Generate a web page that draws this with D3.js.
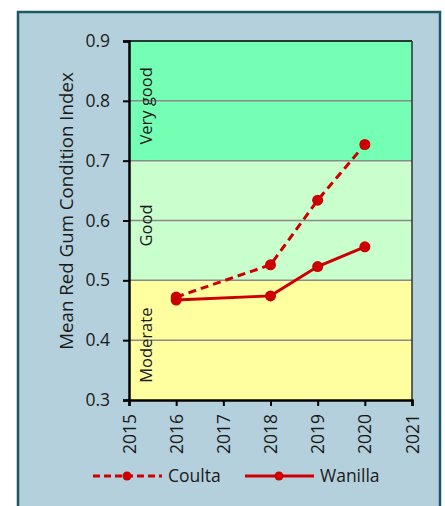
<html>
<head>
<script src="https://cdn.jsdelivr.net/npm/d3@7"></script>
<style>
  body { margin: 0; background: #fff; }
  text { font-family: "Open Sans", sans-serif; fill: #1a1a1a; }
</style>
</head>
<body>
<div id="chart"></div>
<script>
// data
const years = [2016, 2018, 2019, 2020];
const coulta = [0.472, 0.526, 0.634, 0.727];
const wanilla = [0.467, 0.474, 0.523, 0.556];
const bandNames = ["Moderate", "Good", "Very good"];
const bandLow = [0.3, 0.5, 0.7];
const bandHigh = [0.5, 0.7, 0.9];
const bandColors = ["#ffffa0", "#c8ffcc", "#74ffb4"];
const yTicks = [0.3, 0.4, 0.5, 0.6, 0.7, 0.8, 0.9];
const xTicks = [2015, 2016, 2017, 2018, 2019, 2020, 2021];

const W = 445, H = 506;
const m = {left: 129, right: 412, top: 41, bottom: 400};
const red = "#cc0000";

const svg = d3.select("#chart").append("svg")
    .attr("width", W).attr("height", H);

// outer panel
svg.append("rect")
    .attr("x", 18).attr("y", 12).attr("width", 422).attr("height", 510)
    .attr("fill", "#b4d0dc").attr("stroke", "#1d5866").attr("stroke-width", 2.5);

const x = d3.scaleLinear().domain([2015, 2021]).range([m.left, m.right]);
const y = d3.scaleLinear().domain([0.3, 0.9]).range([m.bottom, m.top]);

// bands
svg.append("g").selectAll("rect")
    .data(bandNames)
    .join("rect")
    .attr("x", m.left)
    .attr("y", (d, i) => y(bandHigh[i]))
    .attr("width", m.right - m.left)
    .attr("height", (d, i) => y(bandLow[i]) - y(bandHigh[i]))
    .attr("fill", (d, i) => bandColors[i]);

// gridlines
svg.append("g").selectAll("line")
    .data(yTicks.slice(1, -1))
    .join("line")
    .attr("x1", m.left).attr("x2", m.right)
    .attr("y1", d => y(d)).attr("y2", d => y(d))
    .attr("stroke", "#8a8a8a").attr("stroke-width", 1.5);

// band labels
svg.append("g").selectAll("text")
    .data(bandNames)
    .join("text")
    .attr("transform", (d, i) => `translate(152,${(y(bandLow[i]) + y(bandHigh[i])) / 2 + 5}) rotate(-90)`)
    .attr("text-anchor", "middle")
    .attr("font-size", 16.5)
    .text(d => d);

// frame top/right
svg.append("line").attr("x1", m.left).attr("x2", m.right).attr("y1", m.top).attr("y2", m.top)
    .attr("stroke", "#000").attr("stroke-width", 1.5);
svg.append("line").attr("x1", m.right).attr("x2", m.right).attr("y1", m.top).attr("y2", m.bottom)
    .attr("stroke", "#333").attr("stroke-width", 1.5);

// axes
const yAxis = svg.append("g")
    .attr("transform", `translate(${m.left},0)`)
    .call(d3.axisLeft(y).tickValues(yTicks).tickFormat(d3.format(".1f")).tickSize(6).tickPadding(13));
const xAxis = svg.append("g")
    .attr("transform", `translate(0,${m.bottom})`)
    .call(d3.axisBottom(x).tickValues(xTicks).tickFormat(d3.format("d")).tickSize(6));
[yAxis, xAxis].forEach(a => {
    a.select(".domain").attr("stroke", "#000").attr("stroke-width", 2.5);
    a.selectAll(".tick line").attr("stroke", "#000").attr("stroke-width", 2);
    a.selectAll("text").attr("font-size", 17.5).attr("font-family", "'Open Sans', sans-serif").attr("fill", "#1a1a1a");
});
xAxis.selectAll("text")
    .attr("transform", "rotate(-90)")
    .attr("text-anchor", "end")
    .attr("x", -14).attr("y", 0).attr("dy", "0.35em");

// y title
svg.append("text")
    .attr("transform", `translate(73,211) rotate(-90)`)
    .attr("text-anchor", "middle")
    .attr("font-size", 18.7)
    .text("Mean Red Gum Condition Index");

// series
const series = [
    {name: "Coulta", values: coulta, dash: "8,5"},
    {name: "Wanilla", values: wanilla, dash: null}
];
const line = d3.line().x((d, i) => x(years[i])).y(d => y(d));
series.forEach(s => {
    svg.append("path")
        .attr("d", line(s.values))
        .attr("fill", "none").attr("stroke", red).attr("stroke-width", 3)
        .attr("stroke-dasharray", s.dash);
    svg.append("g").selectAll("circle")
        .data(s.values)
        .join("circle")
        .attr("cx", (d, i) => x(years[i])).attr("cy", d => y(d))
        .attr("r", 5.5).attr("fill", red);
});

// legend
const legX = [93, 245];
const leg = svg.append("g").selectAll("g")
    .data(series)
    .join("g")
    .attr("transform", (d, i) => `translate(${legX[i]},476)`);
leg.append("line")
    .attr("x1", 0).attr("x2", 69).attr("y1", 0).attr("y2", 0)
    .attr("stroke", red).attr("stroke-width", 3)
    .attr("stroke-dasharray", d => d.dash ? "7,4" : null);
leg.append("circle").attr("cx", 34).attr("cy", 0).attr("r", 4.5).attr("fill", red);
leg.append("text").attr("x", 75).attr("y", 0).attr("dy", "0.35em")
    .attr("font-size", 17.5).text(d => d.name);
</script>
</body>
</html>
